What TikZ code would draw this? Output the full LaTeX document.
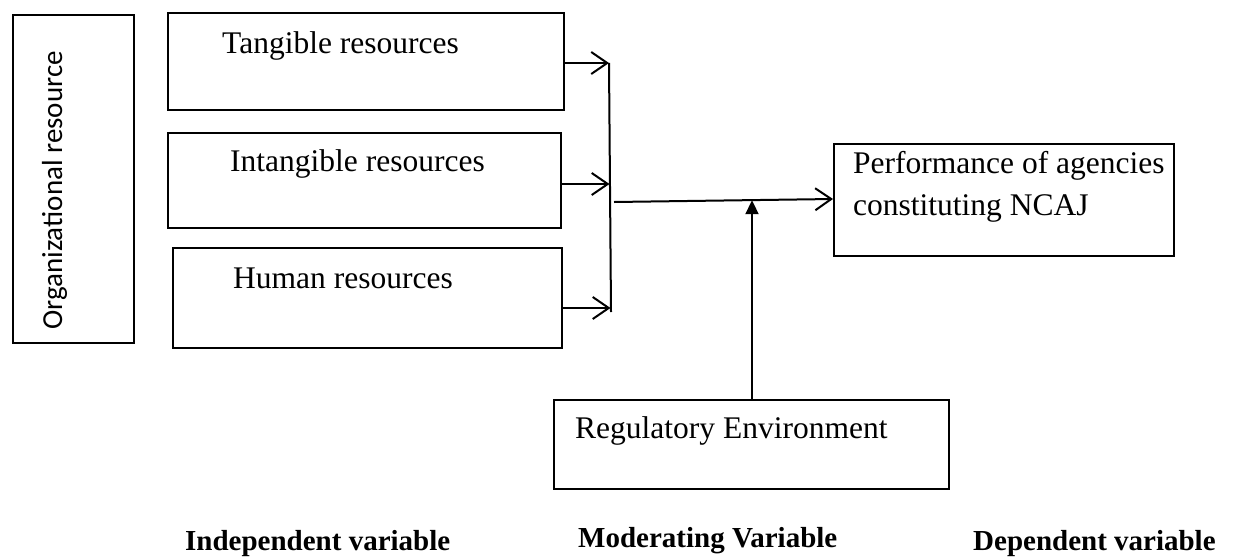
\documentclass[tikz,border=0pt]{standalone}
\usepackage{fontspec}
\setmainfont{Liberation Serif}
\newfontfamily\carlito{Carlito}
\usetikzlibrary{arrows.meta}

\tikzset{
  box/.style={draw, line width=2.2pt, inner sep=0pt, anchor=north west},
  lbl/.style={inner sep=0pt, anchor=base west, font=\fontsize{31.5}{38}\selectfont},
  head/.style={inner sep=0pt, anchor=base west, font=\fontsize{29}{34}\selectfont\bfseries},
  link/.style={line width=2pt},
  feed/.style={line width=2pt, -{Straight Barb[length=16pt,width=22pt,line width=2pt]}},
  moder/.style={line width=2pt, -{Triangle[length=14pt,width=13pt]}}
}

\begin{document}
\begin{tikzpicture}[x=1pt,y=-1pt]
\useasboundingbox (0,0) rectangle (1239,557);

% outer grouping box
\node[box, minimum width=121pt, minimum height=328pt] (org) at (12,14) {};
\node[inner sep=0pt, rotate=90, anchor=base west, font=\carlito\fontsize{29}{34}\selectfont] (orgtxt) at (62,330) {Organizational resource};

% independent variables
\node[box, minimum width=396pt, minimum height=97pt] (tang) at (167,12) {};
\node[lbl] (tangtxt) at (222,53) {Tangible resources};

\node[box, minimum width=393pt, minimum height=95pt] (intang) at (167,132) {};
\node[lbl] (intangtxt) at (230,171) {Intangible resources};

\node[box, minimum width=389pt, minimum height=100pt] (human) at (172,247) {};
\node[lbl] (humantxt) at (233,288) {Human resources};

% dependent variable
\node[box, minimum width=340pt, minimum height=112pt] (perf) at (833,143) {};
\node[lbl] (perftxta) at (853,173) {Performance of agencies};
\node[lbl] (perftxtb) at (853,215) {constituting NCAJ};

% moderating variable
\node[box, minimum width=395pt, minimum height=89pt] (reg) at (553,399) {};
\node[lbl] (regtxt) at (575,438) {Regulatory Environment};

% junction points
\coordinate (j1) at (609,63);
\coordinate (j2) at (609.5,184);
\coordinate (j3) at (610.5,308);
\coordinate (jend) at (611,312);
\coordinate (mstart) at (614,202);
\coordinate (mmid) at (752,200.2);
\coordinate (regtop) at (752,399);

% connectors
\draw[feed] (tang.east |- j1) -- (j1);
\draw[feed] (intang.east |- j2) -- (j2);
\draw[feed] (human.east |- j3) -- (j3);
\draw[link] (j1) -- (jend);
\draw[feed] (mstart) -- (perf.west |- 0,199);
\draw[moder] (regtop) -- (mmid);

% column headings
\node[head] (indep) at (185,550) {Independent variable};
\node[head] (modv) at (578,547) {Moderating Variable};
\node[head] (depv) at (973,550) {Dependent variable};
\end{tikzpicture}
\end{document}
